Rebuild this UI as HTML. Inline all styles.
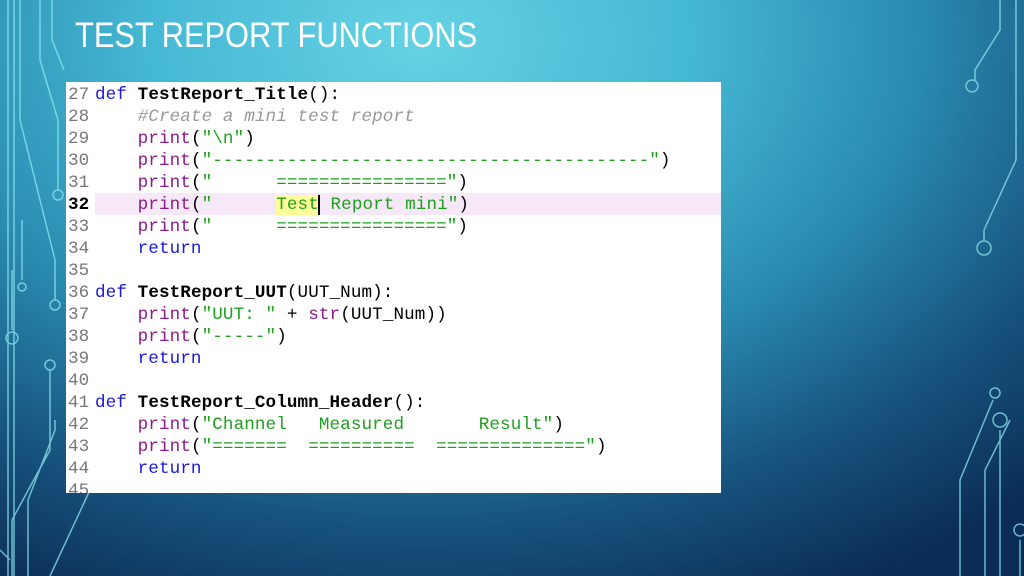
<!DOCTYPE html>
<html><head><meta charset="utf-8"><style>
html,body{margin:0;padding:0}
body{width:1024px;height:576px;overflow:hidden;position:relative;
background:radial-gradient(ellipse 900px 620px at 420px 40px,#66d2e4 0%,#45b8d4 30%,#2a8bb0 55%,#17547f 78%,#0b2c55 100%);
font-family:"Liberation Sans",sans-serif}
#title{position:absolute;left:75px;top:16px;color:#fff;font-size:35px;white-space:nowrap;transform:scaleX(0.88);transform-origin:0 0}
#code{position:absolute;left:66px;top:82px;width:655px;height:411px;background:#fff;overflow:hidden}
.ln{position:absolute;left:0;width:655px;height:22px;font-family:"Liberation Mono",monospace;font-size:17.6px;line-height:22px;white-space:pre;letter-spacing:0.1px}
.n{position:absolute;left:2px;color:#777}
.c{position:absolute;left:29px}
.k{color:#1a1ad8}.f{color:#000;font-weight:bold}.p{color:#8b1a8b}.s{color:#1fa01f}.cm{color:#999;font-style:italic}
svg{position:absolute;left:0;top:0}
</style></head><body>
<svg width="1024" height="576" fill="none" stroke="#8fe6f2" stroke-width="1.5" opacity="0.75">
<path d="M8 0V576M14 0V576"/>
<path d="M20 0V120L55 260V300"/><circle cx="55" cy="305" r="5"/>
<path d="M40 0V60L58 120V190"/><circle cx="58" cy="195" r="5"/>
<path d="M12 270V330"/><circle cx="12" cy="338" r="6"/>
<path d="M22 220V280"/><circle cx="22" cy="287" r="4"/>
<path d="M52 0V40L64 70"/>
<path d="M12 520V576M12 520L50 450V370"/><circle cx="50" cy="365" r="5"/>
<path d="M28 576V500L55 430V420"/>
<path d="M50 576L90 490"/><circle cx="94" cy="482" r="5"/>
<path d="M0 550L10 560"/>
<path d="M1000 0V30L975 70V80"/><circle cx="972" cy="86" r="6"/>
<path d="M1016 0V160L984 230V240"/><circle cx="984" cy="248" r="7"/>
<path d="M1000 576V430"/><circle cx="1000" cy="420" r="7"/>
<path d="M985 576V470L1010 420"/>
<path d="M960 576V480L993 400"/><circle cx="995" cy="393" r="5"/>
<path d="M1020 576V540"/><circle cx="1020" cy="530" r="6"/>
</svg>
<div id="title">TEST REPORT FUNCTIONS</div>
<div id="code">
<div style="position:absolute;left:29px;top:111px;width:626px;height:22px;background:#f6e8f6"></div>
<div class="ln" style="top:2px"><span class="n">27</span><span class="c"><span class="k">def</span> <span class="f">TestReport_Title</span>():</span></div>
<div class="ln" style="top:24px"><span class="n">28</span><span class="c">    <span class="cm">#Create a mini test report</span></span></div>
<div class="ln" style="top:46px"><span class="n">29</span><span class="c">    <span class="p">print</span>(<span class="s">"\n"</span>)</span></div>
<div class="ln" style="top:68px"><span class="n">30</span><span class="c">    <span class="p">print</span>(<span class="s">"-----------------------------------------"</span>)</span></div>
<div class="ln" style="top:90px"><span class="n">31</span><span class="c">    <span class="p">print</span>(<span class="s">"      ================"</span>)</span></div>
<div class="ln" style="top:112px"><span class="n" style="color:#000;font-weight:bold">32</span><span class="c">    <span class="p">print</span>(<span class="s">"      <span style="background:#ffff99">Test</span><span style="border-left:2px solid #000;margin-left:-1px"></span> Report mini"</span>)</span></div>
<div class="ln" style="top:134px"><span class="n">33</span><span class="c">    <span class="p">print</span>(<span class="s">"      ================"</span>)</span></div>
<div class="ln" style="top:156px"><span class="n">34</span><span class="c">    <span class="k">return</span></span></div>
<div class="ln" style="top:178px"><span class="n">35</span></div>
<div class="ln" style="top:200px"><span class="n">36</span><span class="c"><span class="k">def</span> <span class="f">TestReport_UUT</span>(UUT_Num):</span></div>
<div class="ln" style="top:222px"><span class="n">37</span><span class="c">    <span class="p">print</span>(<span class="s">"UUT: "</span> + <span class="p">str</span>(UUT_Num))</span></div>
<div class="ln" style="top:244px"><span class="n">38</span><span class="c">    <span class="p">print</span>(<span class="s">"-----"</span>)</span></div>
<div class="ln" style="top:266px"><span class="n">39</span><span class="c">    <span class="k">return</span></span></div>
<div class="ln" style="top:288px"><span class="n">40</span></div>
<div class="ln" style="top:310px"><span class="n">41</span><span class="c"><span class="k">def</span> <span class="f">TestReport_Column_Header</span>():</span></div>
<div class="ln" style="top:332px"><span class="n">42</span><span class="c">    <span class="p">print</span>(<span class="s">"Channel   Measured       Result"</span>)</span></div>
<div class="ln" style="top:354px"><span class="n">43</span><span class="c">    <span class="p">print</span>(<span class="s">"=======  ==========  =============="</span>)</span></div>
<div class="ln" style="top:376px"><span class="n">44</span><span class="c">    <span class="k">return</span></span></div>
<div class="ln" style="top:398px"><span class="n">45</span></div>
</div>
</body></html>
